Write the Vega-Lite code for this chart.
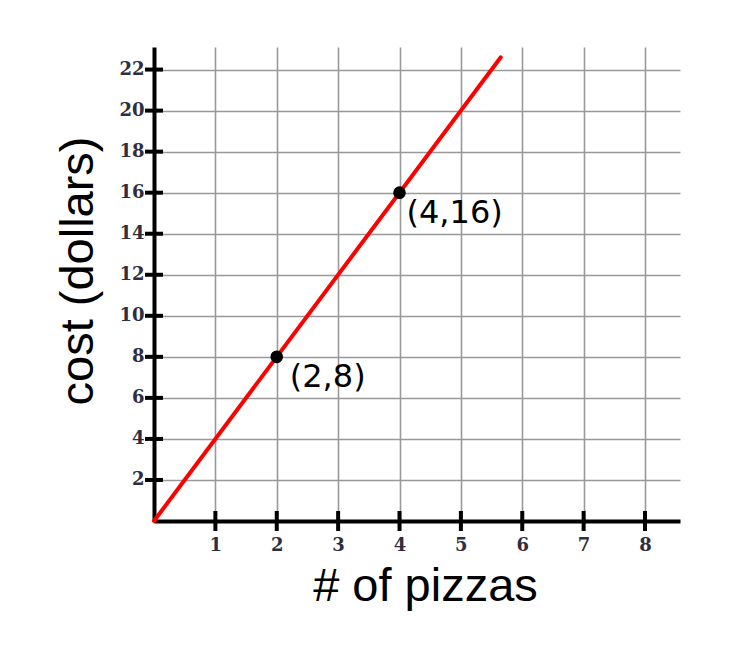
{
  "$schema": "https://vega.github.io/schema/vega-lite/v6.json",
  "width": 526,
  "height": 474,
  "autosize": "none",
  "padding": {"left": 154, "top": 47, "right": 62, "bottom": 125},
  "background": "white",
  "view": {"stroke": null},
  "datasets": {
    "line": [{"x": 0, "y": 0}, {"x": 5.65, "y": 22.6}],
    "points": [{"x": 2, "y": 8, "label": "(2,8)"}, {"x": 4, "y": 16, "label": "(4,16)"}],
    "xticks": [{"x": 1, "y": 0}, {"x": 2, "y": 0}, {"x": 3, "y": 0}, {"x": 4, "y": 0}, {"x": 5, "y": 0}, {"x": 6, "y": 0}, {"x": 7, "y": 0}, {"x": 8, "y": 0}],
    "yticks": [{"x": 0, "y": 2}, {"x": 0, "y": 4}, {"x": 0, "y": 6}, {"x": 0, "y": 8}, {"x": 0, "y": 10}, {"x": 0, "y": 12}, {"x": 0, "y": 14}, {"x": 0, "y": 16}, {"x": 0, "y": 18}, {"x": 0, "y": 20}, {"x": 0, "y": 22}]
  },
  "encoding": {
    "x": {
      "field": "x",
      "type": "quantitative",
      "scale": {"domain": [0, 8.57], "nice": false, "zero": false},
      "axis": {
        "title": "# of pizzas",
        "values": [1, 2, 3, 4, 5, 6, 7, 8],
        "labelFont": "DejaVu Serif",
        "labelFontWeight": "bold",
        "labelFontSize": 18,
        "labelColor": "#2e2e3e",
        "labelPadding": 15,
        "ticks": false,
        "domainColor": "black",
        "domainWidth": 4,
        "grid": true,
        "gridColor": "#999999",
        "gridWidth": 1.6,
        "titleFont": "Liberation Sans",
        "titleFontSize": 47,
        "titleFontWeight": "normal",
        "titleColor": "black",
        "titleX": 271,
        "titleY": 79,
        "titleAlign": "center",
        "titleBaseline": "alphabetic"
      }
    },
    "y": {
      "field": "y",
      "type": "quantitative",
      "scale": {"domain": [0, 23.1], "nice": false, "zero": false},
      "axis": {
        "title": "cost (dollars)",
        "values": [2, 4, 6, 8, 10, 12, 14, 16, 18, 20, 22],
        "labelFont": "DejaVu Serif",
        "labelFontWeight": "bold",
        "labelFontSize": 18,
        "labelColor": "#2e2e3e",
        "labelPadding": 10,
        "ticks": false,
        "domainColor": "black",
        "domainWidth": 4,
        "grid": true,
        "gridColor": "#999999",
        "gridWidth": 1.6,
        "titleFont": "Liberation Sans",
        "titleFontSize": 47,
        "titleFontWeight": "normal",
        "titleColor": "black",
        "titleAngle": -90,
        "titleX": -62,
        "titleY": 223.5,
        "titleAlign": "center",
        "titleBaseline": "alphabetic"
      }
    }
  },
  "layer": [
    {
      "data": {"name": "xticks"},
      "mark": {"type": "tick", "orient": "vertical", "color": "black", "size": 20, "thickness": 4, "opacity": 1}
    },
    {
      "data": {"name": "yticks"},
      "mark": {"type": "tick", "orient": "horizontal", "color": "black", "size": 18, "thickness": 4, "opacity": 1}
    },
    {
      "data": {"name": "line"},
      "mark": {"type": "line", "color": "#ff0000", "strokeWidth": 4, "strokeCap": "round"}
    },
    {
      "data": {"name": "points"},
      "mark": {"type": "point", "filled": true, "color": "black", "size": 160, "opacity": 1}
    },
    {
      "data": {"name": "points"},
      "transform": [{"filter": "datum.x == 2"}],
      "mark": {"type": "text", "font": "DejaVu Sans", "fontSize": 32, "align": "left", "baseline": "middle", "dx": 13, "dy": 20, "color": "black"},
      "encoding": {"text": {"field": "label"}}
    },
    {
      "data": {"name": "points"},
      "transform": [{"filter": "datum.x == 4"}],
      "mark": {"type": "text", "font": "DejaVu Sans", "fontSize": 32, "align": "left", "baseline": "middle", "dx": 7, "dy": 20, "color": "black"},
      "encoding": {"text": {"field": "label"}}
    }
  ]
}
